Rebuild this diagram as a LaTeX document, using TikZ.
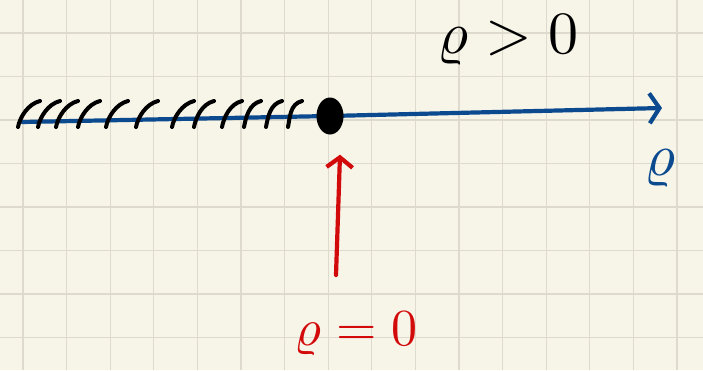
\documentclass[tikz,border=0pt]{standalone}
\usepackage{amsmath}
\usepackage{graphicx}
\usetikzlibrary{arrows.meta,positioning,calc,shapes.geometric,backgrounds}

\definecolor{paper}{HTML}{F7F4E8}
\definecolor{gridline}{HTML}{DEDBCE}
\definecolor{penblue}{HTML}{0B4A8F}
\definecolor{penred}{HTML}{D20A0A}

\newcommand{\handsize}[2]{\scalebox{#1}{#2}}

\begin{document}
\begin{tikzpicture}[
    x=1pt, y=-1pt,
    axis line/.style={
        draw=penblue,
        line width=4.2pt,
        line cap=round
    },
    hatch/.style={
        draw=black,
        line width=4pt,
        line cap=round
    },
    pointer/.style={
        draw=penred,
        line width=4.2pt,
        line cap=round,
        -{Straight Barb[length=10pt,width=26pt,line width=4.2pt]}
    },
    hand label/.style={
        inner sep=0pt
    }
]

\useasboundingbox (0,0) rectangle (703,370);

% Axis
\coordinate (left) at (22,122);
\node[ellipse, fill=black, minimum width=27pt, minimum height=37pt, inner sep=0pt] (origin) at (330,116) {};
\coordinate (tip) at (662,108);

\begin{scope}[on background layer]
    % Paper and grid
    \fill[paper] (0,0) rectangle (703,370);
    \foreach \gx in {0,...,15}
        \draw[gridline, line width=1.2pt] (23+43.6*\gx,0) -- (23+43.6*\gx,370);
    \foreach \gy in {0,...,7}
        \draw[gridline, line width=1.2pt] (0,33+43.5*\gy) -- (703,33+43.5*\gy);
    \draw[axis line] (left) -- (origin.center);
    \draw[axis line, -{Straight Barb[length=10pt,width=30pt,line width=4.2pt]}] (origin.center) -- (tip);
\end{scope}

% Hatching of the excluded half
\foreach \hx/\hl in {18/14,38/14,56/14,78/14,106/14,136/14,172/14,194/12,222/12,244/9,266/8,288/6}
    \draw[hatch] (\hx,127) .. controls (\hx+2,117) and (\hx+\hl-4,104) .. (\hx+\hl+8,101);

% Labels
\node[hand label, text=black] (positive) at (508,40) {\handsize{6}{$\varrho > 0$}};
\node[hand label, text=penblue] (axislabel) at (660,168) {\handsize{6}{$\varrho$}};
\node[hand label, text=penred] (zerolabel) at (356,334) {\handsize{5.2}{$\varrho = 0$}};

% Pointer to the origin
\coordinate (pointer start) at (336,275);
\draw[pointer] (pointer start) -- ($(origin.south)+(10,20)$);

\end{tikzpicture}
\end{document}
